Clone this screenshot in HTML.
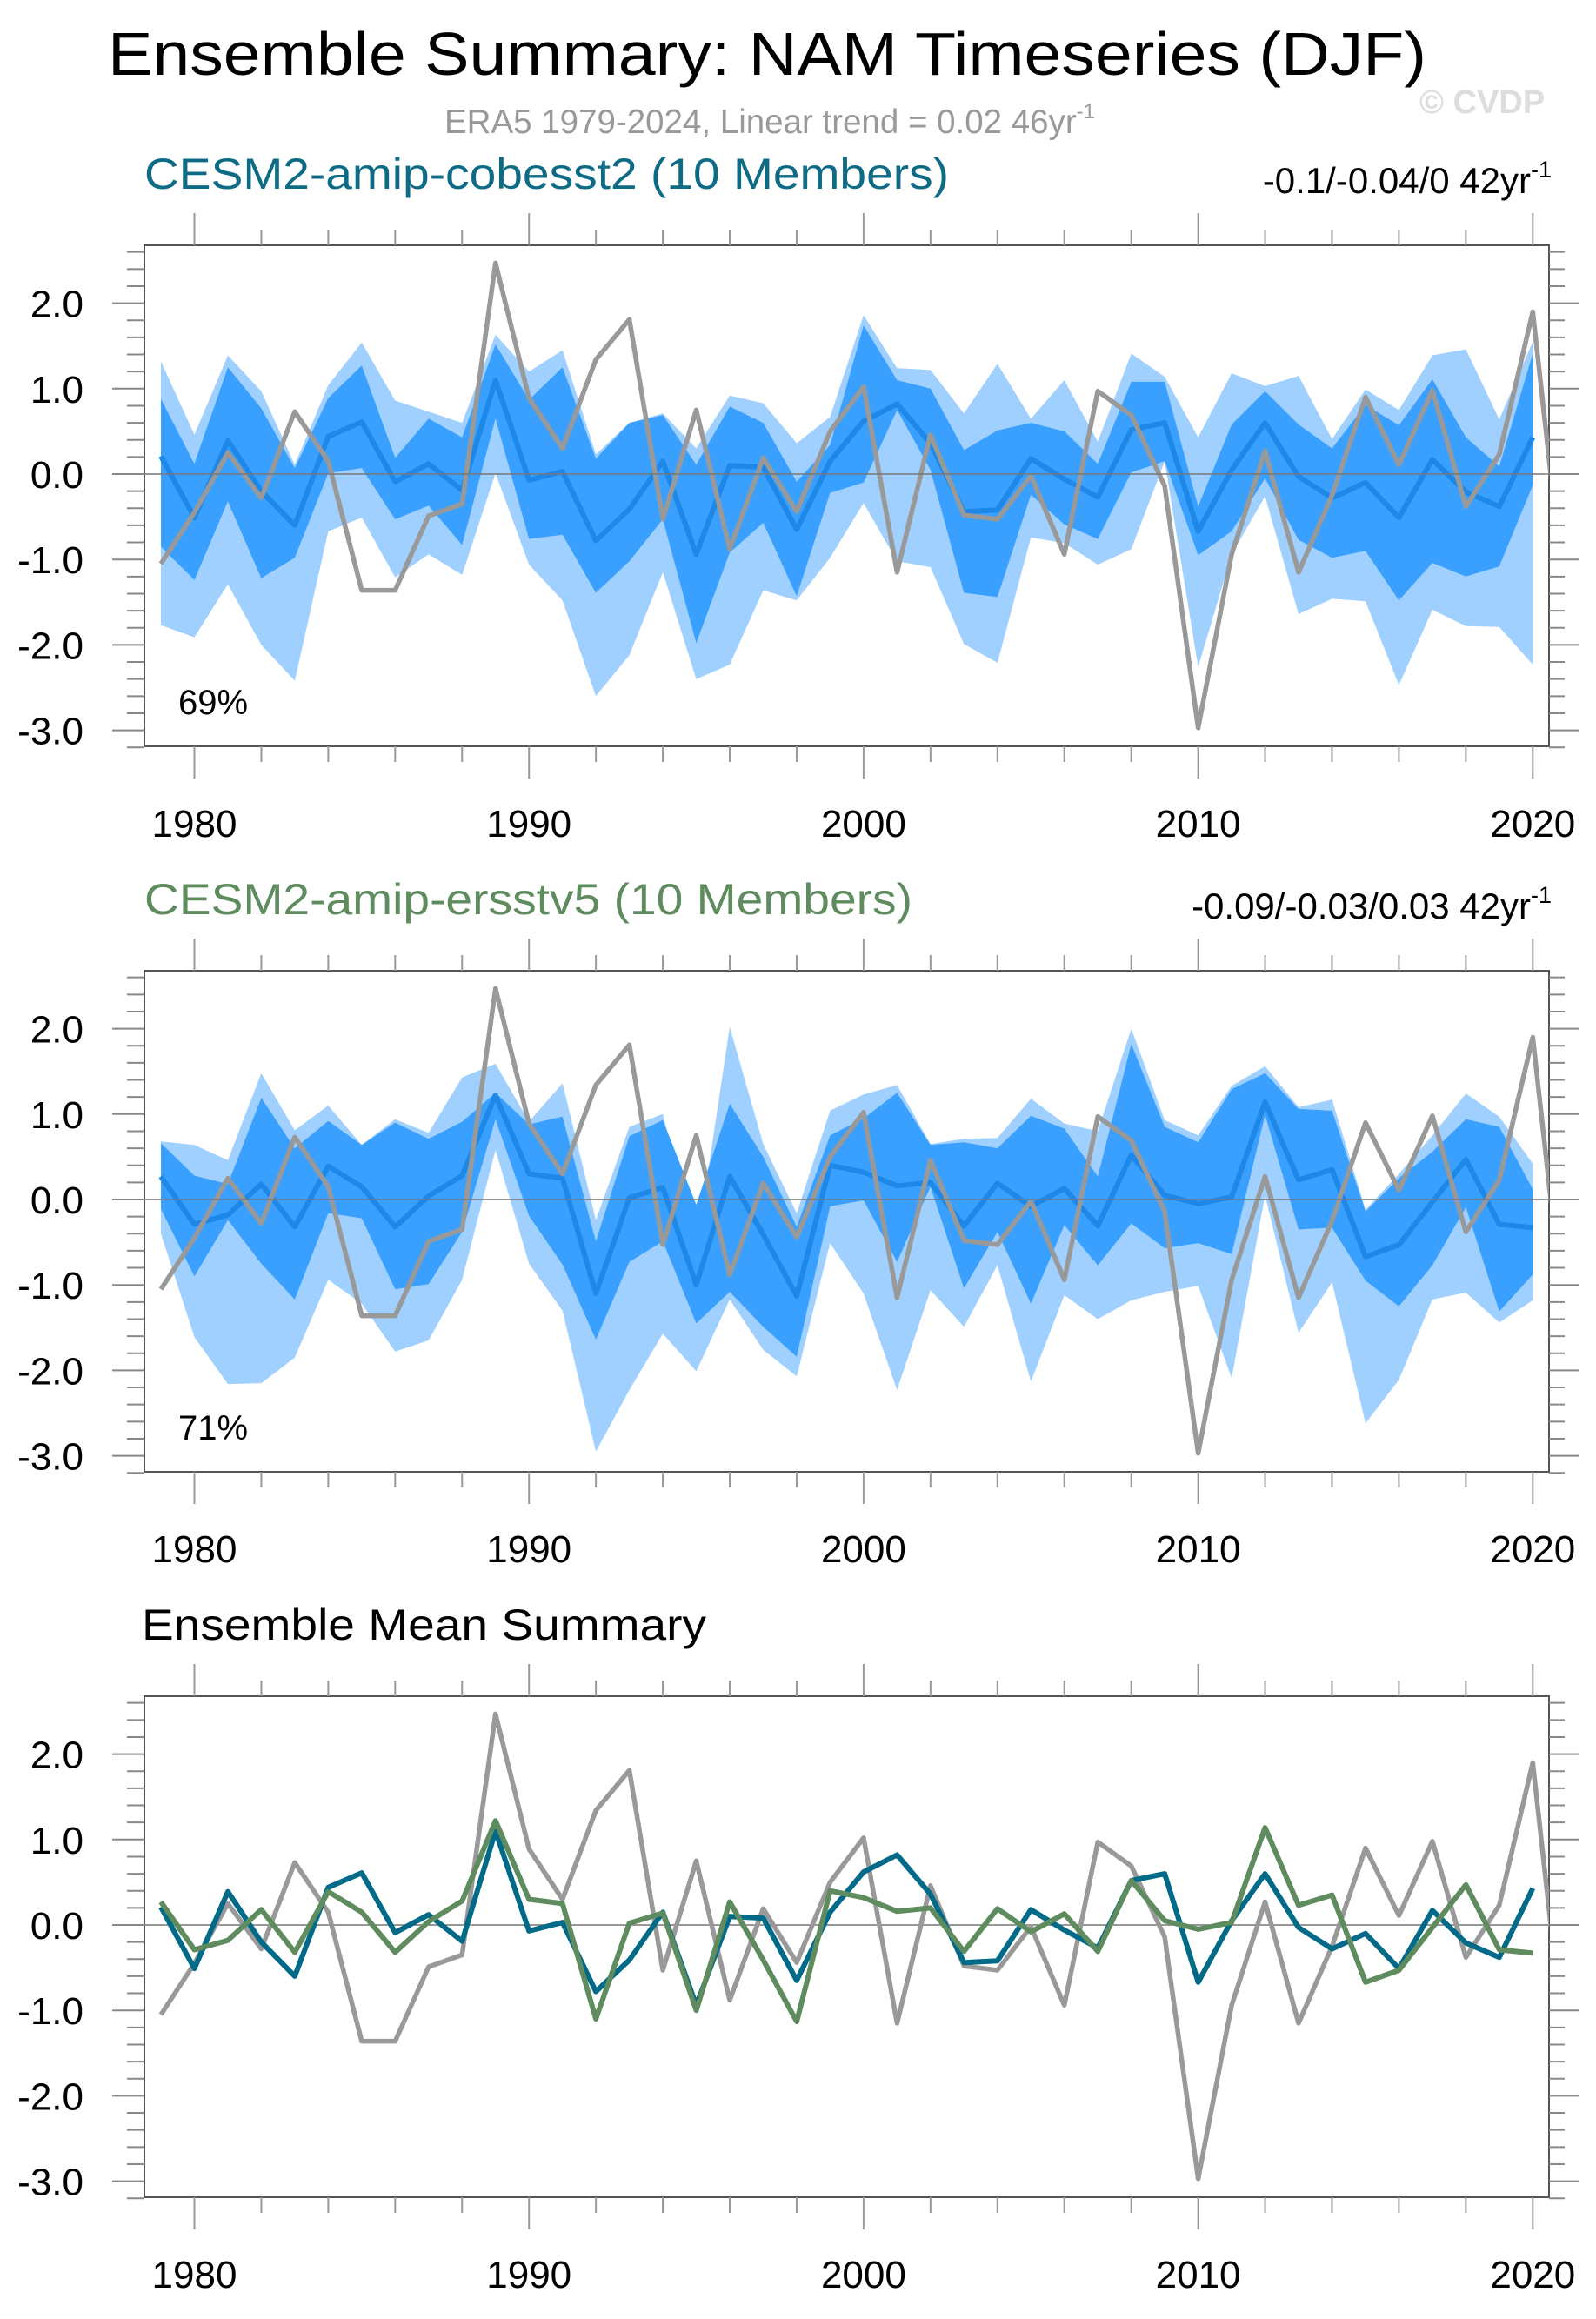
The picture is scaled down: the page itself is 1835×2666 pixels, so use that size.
<!DOCTYPE html>
<html><head><meta charset="utf-8"><style>
html,body{margin:0;padding:0;background:#fff;}
svg{display:block;font-family:"Liberation Sans",Arial,sans-serif;}
</style></head><body>
<svg id="chart" width="1835" height="2666" viewBox="0 0 1835 2666" xmlns="http://www.w3.org/2000/svg">
<defs>
<clipPath id="clip0"><rect x="166" y="282" width="1615" height="576"/></clipPath>
<clipPath id="clip1"><rect x="166" y="1116" width="1615" height="576"/></clipPath>
<clipPath id="clip2"><rect x="166" y="1950" width="1615" height="576"/></clipPath>
</defs>
<text x="124" y="86" font-size="70" textLength="1516" lengthAdjust="spacingAndGlyphs" fill="#000">Ensemble Summary: NAM Timeseries (DJF)</text>
<text x="511" y="153" font-size="38.5" fill="#999">ERA5 1979-2024, Linear trend = 0.02 46yr<tspan font-size="24" dy="-17">-1</tspan></text>
<text x="1632" y="130" font-size="38" font-weight="bold" fill="#ddd">© CVDP</text>
<text x="166" y="217" font-size="50" fill="#0E6B86" textLength="925" lengthAdjust="spacingAndGlyphs">CESM2-amip-cobesst2 (10 Members)</text>
<text x="1784" y="222" font-size="42" fill="#000" text-anchor="end">-0.1/-0.04/0 42yr<tspan font-size="27" dy="-18">-1</tspan></text>
<text x="166" y="1051" font-size="50" fill="#5E8C5E" textLength="883" lengthAdjust="spacingAndGlyphs">CESM2-amip-ersstv5 (10 Members)</text>
<text x="1784" y="1056" font-size="42" fill="#000" text-anchor="end">-0.09/-0.03/0.03 42yr<tspan font-size="27" dy="-18">-1</tspan></text>
<text x="163" y="1885" font-size="50" fill="#000" textLength="649" lengthAdjust="spacingAndGlyphs">Ensemble Mean Summary</text>
<text x="205" y="821" font-size="40" fill="#000">69%</text>
<text x="205" y="1655" font-size="40" fill="#000">71%</text>
</svg>
<script>
const years = [1979,1980,1981,1982,1983,1984,1985,1986,1987,1988,1989,1990,1991,1992,1993,1994,1995,1996,1997,1998,1999,2000,2001,2002,2003,2004,2005,2006,2007,2008,2009,2010,2011,2012,2013,2014,2015,2016,2017,2018,2019,2020];
const era5Years = [1979,1980,1981,1982,1983,1984,1985,1986,1987,1988,1989,1990,1991,1992,1993,1994,1995,1996,1997,1998,1999,2000,2001,2002,2003,2004,2005,2006,2007,2008,2009,2010,2011,2012,2013,2014,2015,2016,2017,2018,2019,2020,2021];
const era5 = [-1.05,-0.45,0.25,-0.28,0.73,0.15,-1.36,-1.36,-0.49,-0.35,2.47,0.89,0.3,1.34,1.81,-0.53,0.75,-0.88,0.19,-0.44,0.5,1.02,-1.15,0.46,-0.48,-0.53,-0.02,-0.94,0.97,0.69,-0.14,-2.97,-0.94,0.27,-1.15,-0.25,0.9,0.11,0.98,-0.38,0.23,1.9,-1.64];
const m1Mean = [0.21,-0.51,0.39,-0.2,-0.6,0.44,0.61,-0.09,0.12,-0.19,1.1,-0.07,0.03,-0.78,-0.41,0.15,-0.94,0.1,0.08,-0.65,0.15,0.62,0.82,0.36,-0.44,-0.42,0.18,-0.06,-0.27,0.52,0.6,-0.67,0.05,0.6,-0.03,-0.28,-0.1,-0.51,0.17,-0.21,-0.38,0.43];
const m1DarkHi = [0.88,0.12,1.25,0.77,0.07,0.89,1.27,0.19,0.65,0.43,1.52,0.87,1.25,0.18,0.6,0.69,0.11,0.79,0.6,-0.09,0.34,1.74,1.1,1.0,0.28,0.51,0.6,0.5,0.12,1.08,1.08,-0.38,0.58,0.97,0.58,0.3,0.81,0.57,1.11,0.43,0.09,1.41];
const m1DarkLo = [-0.85,-1.24,-0.32,-1.22,-0.98,0.01,0.07,-0.53,-0.37,-0.83,0.65,-0.76,-0.71,-1.39,-1.02,-0.53,-1.98,-0.92,-0.57,-1.43,-0.22,-0.1,0.75,0.05,-1.39,-1.44,-0.24,-0.59,-0.76,0.02,0.15,-0.95,-0.67,-0.05,-0.77,-0.98,-0.9,-1.48,-1.04,-1.2,-1.08,-0.13];
const m1LightHi = [1.32,0.46,1.39,0.97,0.11,1.04,1.54,0.86,0.73,0.6,1.63,1.2,1.45,0.23,0.6,0.71,0.3,0.92,0.83,0.36,0.67,1.86,1.24,1.22,0.71,1.29,0.65,1.1,0.38,1.41,1.14,0.43,1.18,1.03,1.15,0.41,0.99,0.75,1.39,1.46,0.64,1.55];
const m1LightLo = [-1.77,-1.91,-1.29,-2.0,-2.42,-0.67,-0.51,-1.21,-0.94,-1.18,0.01,-1.06,-1.48,-2.6,-2.12,-1.15,-2.4,-2.23,-1.36,-1.48,-0.98,-0.34,-1.02,-1.09,-1.99,-2.21,-0.74,-0.81,-1.06,-0.88,0.15,-2.26,-0.94,-0.26,-1.64,-1.46,-1.49,-2.47,-1.59,-1.78,-1.79,-2.23];
const m2Mean = [0.27,-0.29,-0.18,0.18,-0.32,0.39,0.15,-0.32,0.04,0.28,1.22,0.3,0.25,-1.1,0.02,0.14,-1.0,0.27,-0.41,-1.13,0.4,0.32,0.16,0.2,-0.31,0.19,-0.08,0.13,-0.31,0.52,0.05,-0.05,0.03,1.14,0.23,0.35,-0.67,-0.53,-0.03,0.47,-0.29,-0.33];
const m2DarkHi = [0.66,0.28,0.18,1.19,0.6,0.92,0.64,0.9,0.71,0.91,1.25,0.88,0.97,-0.49,0.74,0.93,-0.06,1.12,0.5,-0.32,0.75,0.95,1.25,0.64,0.67,0.6,0.98,0.83,0.27,1.82,0.85,0.67,1.29,1.48,1.06,1.04,-0.14,0.25,0.56,0.94,0.85,0.12];
const m2DarkLo = [-0.11,-0.9,-0.24,-0.75,-1.17,-0.16,-0.22,-1.05,-0.99,-0.38,0.94,-0.19,-0.76,-1.64,-0.73,-0.49,-1.45,-1.08,-1.49,-1.84,-0.08,-0.01,-0.73,0.15,-1.04,-0.38,-1.22,-0.3,-0.77,-0.28,-0.57,-0.51,-0.64,0.99,-0.35,-0.33,-0.95,-1.25,-0.77,-0.09,-1.31,-0.88];
const m2LightHi = [0.68,0.64,0.46,1.48,0.81,1.1,0.64,0.94,0.78,1.43,1.59,0.91,1.36,-0.24,0.85,1.0,-0.59,2.02,0.65,-0.16,1.04,1.23,1.34,0.65,0.71,0.72,1.18,0.89,0.8,2.0,0.93,0.75,1.33,1.56,1.08,1.17,-0.12,0.3,0.75,1.24,0.97,0.42];
const m2LightLo = [-0.4,-1.61,-2.16,-2.15,-1.85,-0.94,-1.22,-1.78,-1.65,-0.94,0.58,-0.75,-1.3,-2.95,-2.23,-1.57,-2.01,-1.17,-1.76,-2.07,-0.51,-1.1,-2.23,-1.06,-1.49,-0.77,-2.13,-1.12,-1.4,-1.18,-1.08,-1.01,-2.09,0.05,-1.56,-0.97,-2.62,-2.11,-1.17,-1.09,-1.44,-1.18];
const xTickYears = [1980,1990,2000,2010,2020];
const xTickLabels = ["1980","1990","2000","2010","2020"];
const yTickValues = [2,1,0,-1,-2,-3];
const yTickLabels = ["2.0","1.0","0.0","-1.0","-2.0","-3.0"];

const NS = "http://www.w3.org/2000/svg";
const svg = document.getElementById('chart');
const BOX_L = 166, BOX_R = 1781, BOX_T = 282, BOX_B = 858, ZERO_Y = 545, UNIT = 98.2;
function xScale(yr){ return 223.5 + (yr - 1980) * 38.47; }
function yScale(v, off){ return off + ZERO_Y - v * UNIT; }
function mk(tag, attrs){ const e = document.createElementNS(NS, tag); for (const k in attrs) e.setAttribute(k, attrs[k]); svg.appendChild(e); return e; }
function linePts(xs, vs, off){ return xs.map((y,i)=>xScale(y).toFixed(1)+','+yScale(vs[i],off).toFixed(1)).join(' '); }
function bandPts(hi, lo, off){
  const up = years.map((y,i)=>xScale(y).toFixed(1)+','+yScale(hi[i],off).toFixed(1));
  const dn = years.map((y,i)=>xScale(y).toFixed(1)+','+yScale(lo[i],off).toFixed(1)).reverse();
  return up.concat(dn).join(' ');
}

function drawAxes(p, off){
  const frame = mk('rect', {x:BOX_L, y:BOX_T+off, width:BOX_R-BOX_L, height:BOX_B-BOX_T, fill:'none', stroke:'#555', 'stroke-width':2});
  
  
  for (let yr = 1980; yr <= 2020; yr += 2) {
    const major = yr % 10 === 0;
    const len = major ? 37 : 18;
    const x = xScale(yr);
    const t1 = mk('line', {x1:x, x2:x, y1:BOX_T+off, y2:BOX_T+off-len, stroke:'#999', 'stroke-width':2});
    
    
    const t2 = mk('line', {x1:x, x2:x, y1:BOX_B+off, y2:BOX_B+off+len, stroke:'#999', 'stroke-width':2});
    
    
  }
  for (let k = -16; k <= 13; k++) {
    const v = k / 5;
    const major = k % 5 === 0;
    const y = yScale(v, off);
    const t1 = mk('line', {x1:BOX_L, x2:BOX_L-(major?37:20), y1:y, y2:y, stroke:'#888', 'stroke-width':2});
    
    
    const t2 = mk('line', {x1:BOX_R, x2:BOX_R+(major?35:18), y1:y, y2:y, stroke:'#888', 'stroke-width':2});
    
    
  }
  xTickYears.forEach((yr,i)=>{
    const t = mk('text', {x:xScale(yr), y:962+off, 'font-size':44, 'text-anchor':'middle', fill:'#000'});
    t.textContent = xTickLabels[i];
    
    
  });
  yTickValues.forEach((v,i)=>{
    const t = mk('text', {x:96, y:yScale(v,off)+16, 'font-size':44, 'text-anchor':'end', fill:'#000'});
    t.textContent = yTickLabels[i];
    
    
  });
}

function drawZero(p, off){
  const z = mk('line', {x1:BOX_L, x2:BOX_R, y1:yScale(0,off), y2:yScale(0,off), stroke:'#777', 'stroke-width':1.5});
  
  
}

function drawEnsemble(p, off, lHi, lLo, dHi, dLo, mean){
  const g = mk('g', {'clip-path':'url(#clip'+p+')'});
  
  
  const lb = mk('polygon', {points:bandPts(lHi,lLo,off), fill:'#A0D0FF'});
  
  
  g.appendChild(lb);
  const db = mk('polygon', {points:bandPts(dHi,dLo,off), fill:'#3AA0FF'});
  
  
  g.appendChild(db);
  drawZero(p, off);
  const ml = mk('polyline', {points:linePts(years,mean,off), fill:'none', stroke:'#1E88E8', 'stroke-width':6, 'stroke-linejoin':'round'});
  
  
  g.appendChild(ml);
  const el = mk('polyline', {points:linePts(era5Years,era5,off), fill:'none', stroke:'#999', 'stroke-width':5.5, 'stroke-linejoin':'round'});
  
  
  g.appendChild(el);
}

drawAxes(0, 0);
drawEnsemble(0, 0, m1LightHi, m1LightLo, m1DarkHi, m1DarkLo, m1Mean);
drawAxes(1, 834);
drawEnsemble(1, 834, m2LightHi, m2LightLo, m2DarkHi, m2DarkLo, m2Mean);
drawAxes(2, 1668);
drawZero(2, 1668);
const g3 = mk('g', {'clip-path':'url(#clip2)'});


const e3 = mk('polyline', {points:linePts(era5Years,era5,1668), fill:'none', stroke:'#999', 'stroke-width':5.5, 'stroke-linejoin':'round'});


g3.appendChild(e3);
const a3 = mk('polyline', {points:linePts(years,m1Mean,1668), fill:'none', stroke:'#006A88', 'stroke-width':6, 'stroke-linejoin':'round'});


g3.appendChild(a3);
const b3 = mk('polyline', {points:linePts(years,m2Mean,1668), fill:'none', stroke:'#5E8C5E', 'stroke-width':6, 'stroke-linejoin':'round'});


g3.appendChild(b3);
</script>
</body></html>
